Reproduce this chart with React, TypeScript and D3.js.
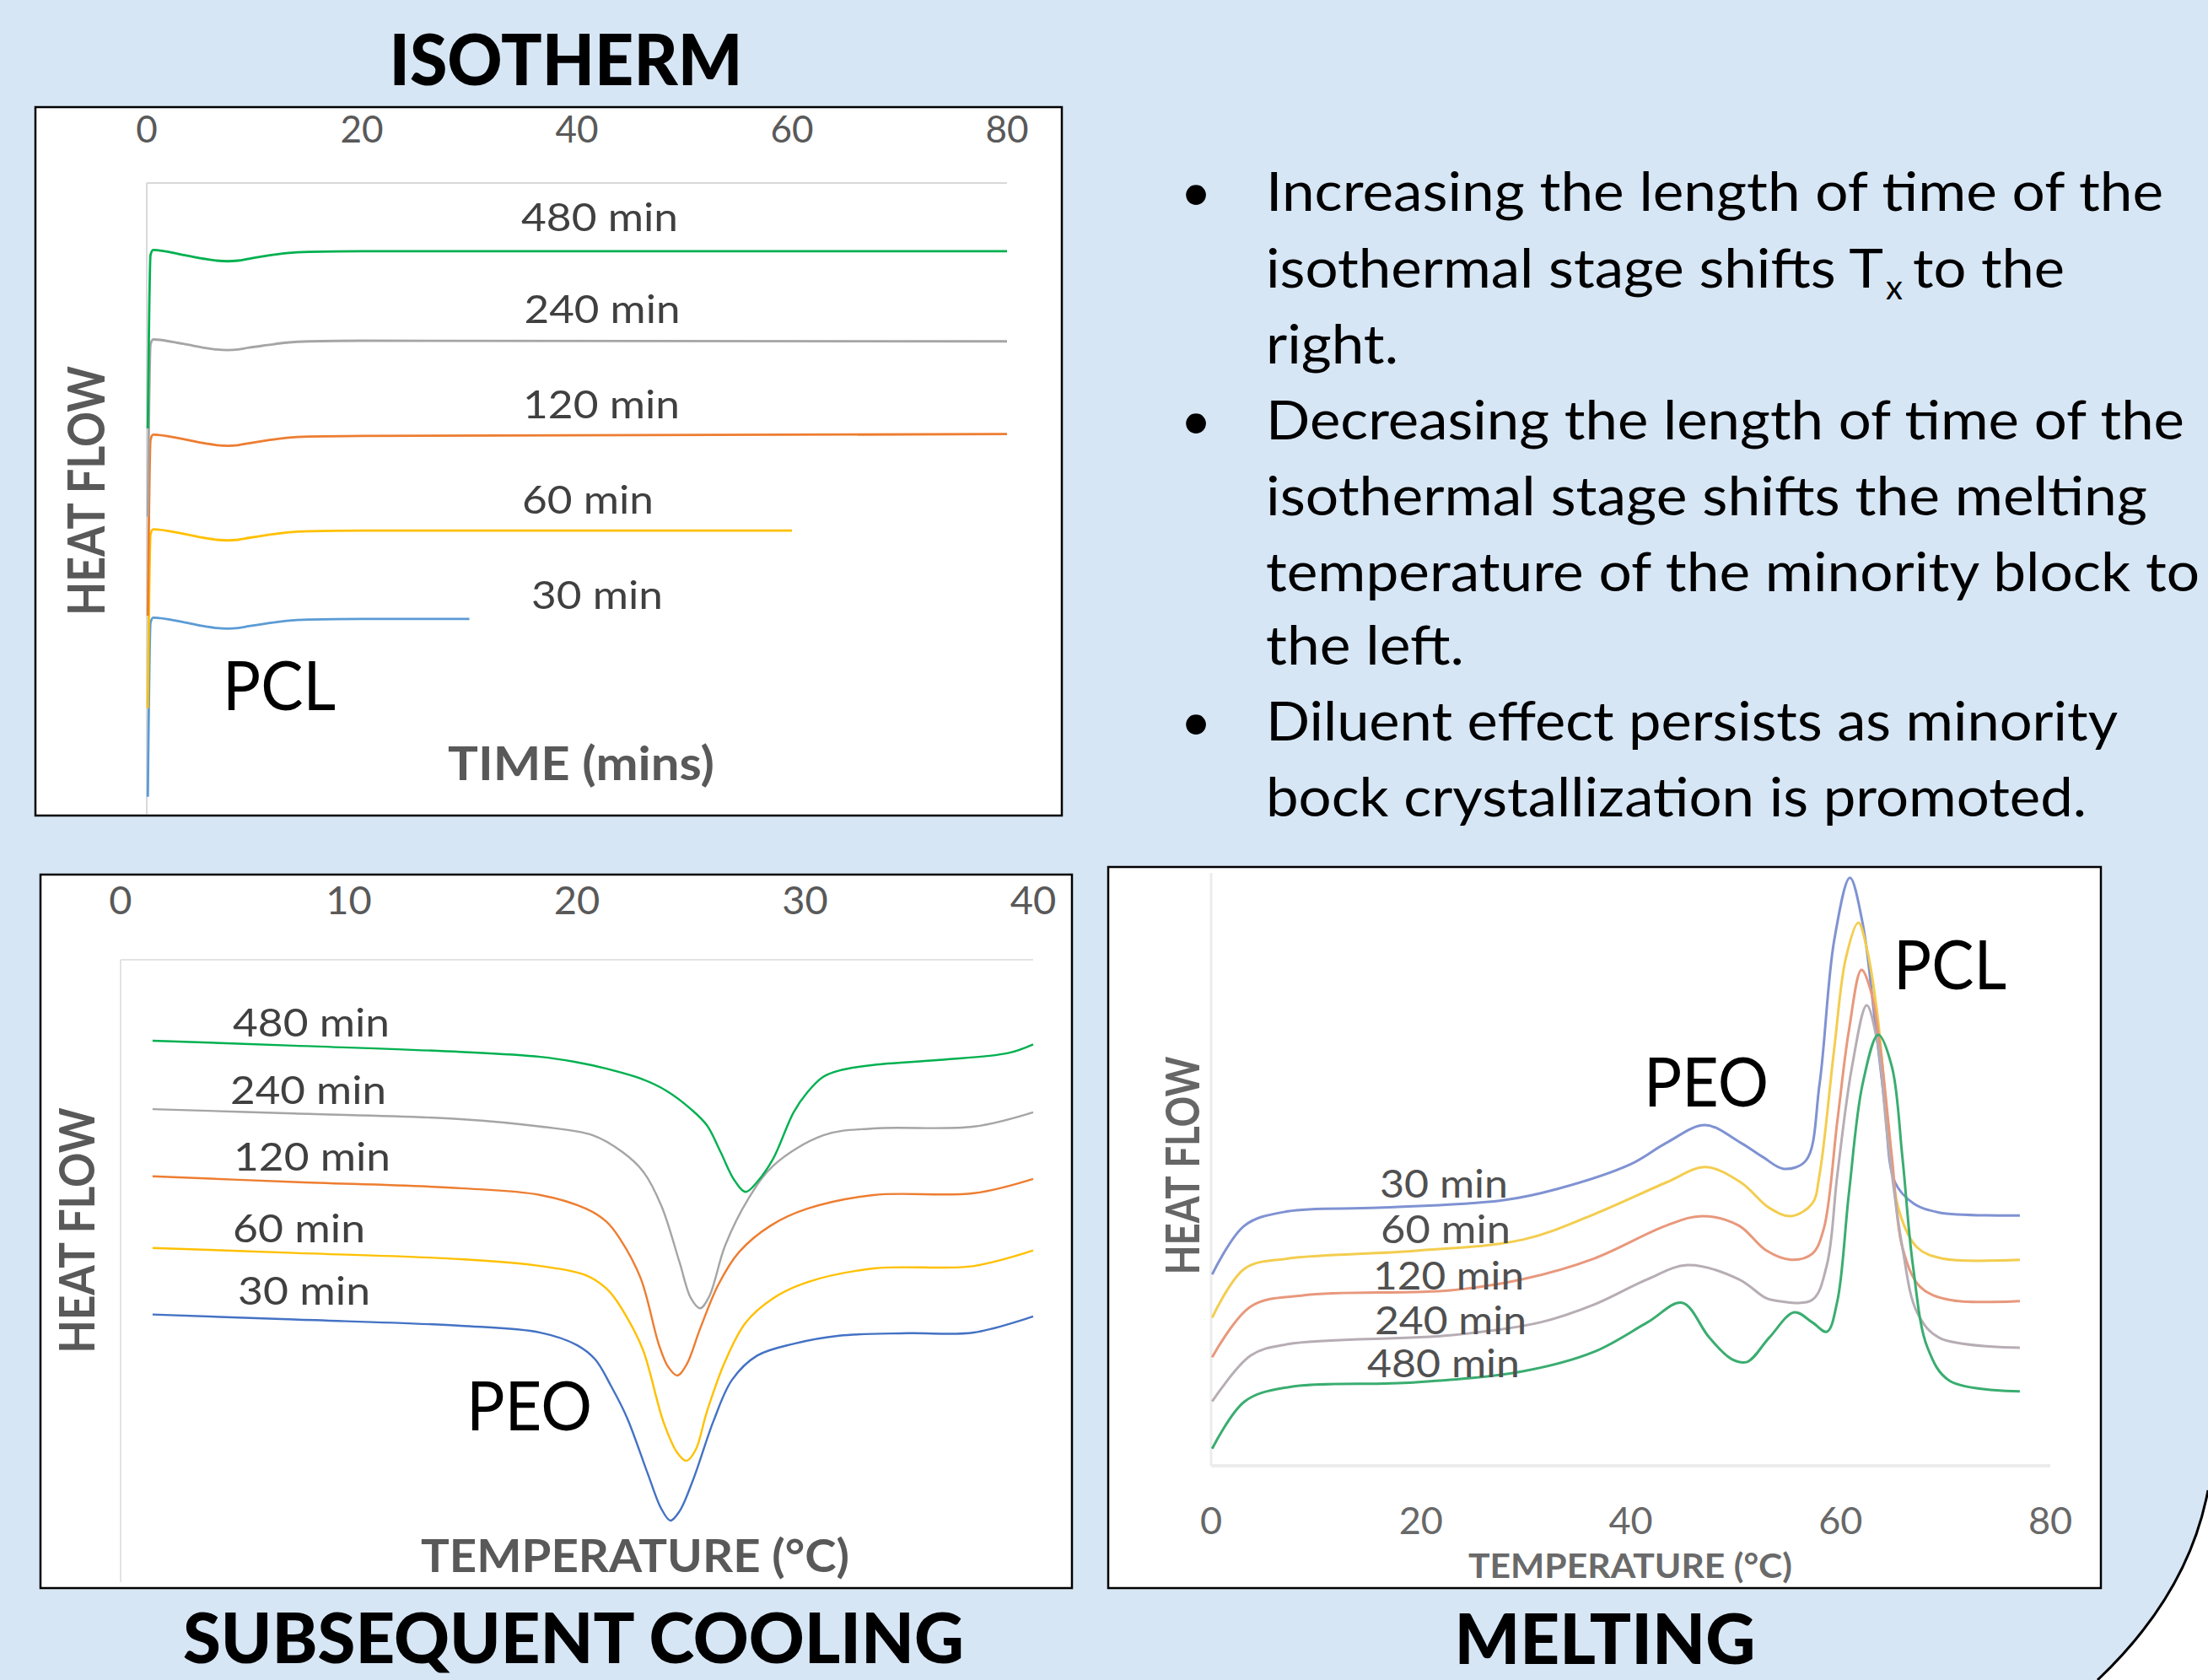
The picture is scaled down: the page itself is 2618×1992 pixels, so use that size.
import React from 'react';
import * as d3 from 'd3';

type Pt = [number, number];

const W = 2618;
const H = 1992;
const FONT = 'Lato, "Open Sans", sans-serif';

// series, in the order they are drawn
const SERIES = ['30 min', '60 min', '120 min', '240 min', '480 min'];
const ISO_COLORS = ['#5b9bd5', '#ffc000', '#ed7d31', '#a5a5a5', '#00b050'];
const COOL_COLORS = ['#4472c4', '#ffc000', '#ed7d31', '#a5a5a5', '#00b050'];
const MELT_COLORS = ['#7f92d2', '#f3cd4f', '#e8987c', '#b7adb4', '#3aad70'];

const ISO_TICKS = [0, 20, 40, 60, 80];
const COOL_TICKS = [0, 10, 20, 30, 40];
const MELT_TICKS = [0, 20, 40, 60, 80];

// isotherm: time (min) vs heat flow (arb. units)
const iso30: Pt[] = [[0.1, 2.7], [0.35, 30.3], [0.6, 31.1], [3.4, 30.4], [5.5, 29.7], [6.5, 29.45], [7.5, 29.35], [8.5, 29.45], [9.5, 29.75], [11.2, 30.2], [13, 30.6], [15.1, 30.8], [20, 30.9], [30, 30.9]];
const iso60: Pt[] = [[0.1, 16.7], [0.35, 44.3], [0.6, 45.1], [3.4, 44.4], [5.5, 43.7], [6.5, 43.45], [7.5, 43.35], [8.5, 43.45], [9.5, 43.75], [11.2, 44.2], [13, 44.6], [15.1, 44.8], [20, 44.9], [60, 44.9]];
const iso120: Pt[] = [[0.1, 31.4], [0.35, 59.3], [0.6, 60.1], [3.4, 59.4], [5.5, 58.7], [6.5, 58.45], [7.5, 58.35], [8.5, 58.45], [9.5, 58.75], [11.2, 59.2], [13, 59.6], [15.1, 59.8], [20, 59.9], [80, 60.2]];
const iso240: Pt[] = [[0.1, 47.1], [0.35, 74.4], [0.6, 75.2], [3.4, 74.5], [5.5, 73.85], [6.5, 73.6], [7.5, 73.5], [8.5, 73.6], [9.5, 73.9], [11.2, 74.3], [13, 74.7], [15.1, 74.9], [20, 75.0], [80, 74.9]];
const iso480: Pt[] = [[0.1, 61.1], [0.35, 88.6], [0.6, 89.4], [3.4, 88.6], [5.5, 87.95], [6.5, 87.7], [7.5, 87.6], [8.5, 87.7], [9.5, 88.0], [11.2, 88.5], [13, 88.9], [15.1, 89.1], [20, 89.2], [80, 89.2]];

// subsequent cooling: temperature (°C) vs heat flow
const cool30: Pt[] = [[1.4, 43.0], [7.6, 42.2], [14.9, 41.2], [18.4, 40.1], [20.0, 38.1], [20.8, 35.8], [21.5, 31.5], [22.2, 26.4], [23.1, 17.5], [23.7, 11.8], [24.1, 9.9], [24.5, 11.4], [25.1, 16.5], [26.0, 26.0], [26.8, 32.5], [27.9, 36.4], [29.5, 38.3], [31.5, 39.6], [34.5, 40.0], [37.4, 40.1], [40, 42.7]];
const cool60: Pt[] = [[1.4, 53.7], [7.6, 52.9], [14.9, 51.9], [18.4, 50.8], [20.4, 49.3], [21.4, 46.8], [22.2, 42.5], [22.9, 37.3], [23.8, 25.7], [24.4, 20.8], [24.8, 19.5], [25.2, 21.2], [25.7, 27.4], [26.5, 35.5], [27.4, 41.7], [28.6, 45.6], [30.1, 48.2], [33.0, 50.4], [37.4, 50.8], [40, 53.3]];
const cool120: Pt[] = [[1.4, 65.2], [7.6, 64.3], [14.9, 63.3], [18.4, 62.2], [20.4, 60.0], [21.3, 57.9], [21.9, 55.1], [22.8, 48.8], [23.6, 38.1], [24.0, 34.6], [24.4, 33.2], [24.8, 34.9], [25.4, 40.7], [26.2, 47.8], [27.1, 53.0], [28.5, 57.3], [30.1, 60.0], [33.0, 62.2], [37.4, 62.5], [40, 64.8]];
const cool240: Pt[] = [[1.4, 76.0], [7.6, 75.3], [14.9, 74.4], [18.4, 73.2], [20.7, 71.8], [22.0, 69.1], [22.9, 66.0], [23.7, 60.5], [24.5, 51.4], [25.0, 45.6], [25.4, 44.0], [25.8, 45.9], [26.5, 54.1], [27.5, 61.5], [28.6, 66.9], [30.8, 71.8], [33.0, 72.9], [37.4, 73.2], [40, 75.5]];
const cool480: Pt[] = [[1.4, 87.0], [7.6, 86.2], [14.9, 85.2], [18.4, 84.4], [19.9, 83.6], [21.3, 82.5], [22.8, 80.9], [23.9, 79.0], [25.0, 76.0], [25.7, 73.4], [26.3, 69.1], [26.9, 64.6], [27.4, 62.7], [27.9, 64.3], [28.6, 68.0], [29.5, 75.5], [30.1, 78.7], [30.8, 81.2], [31.5, 82.2], [33.0, 83.1], [35.9, 83.9], [38.9, 85.0], [40, 86.4]];

// melting: temperature (°C) vs heat flow
const melt30: Pt[] = [[0.1, 32.4], [3.2, 40.7], [7.3, 43.1], [15.9, 43.7], [27.9, 45.0], [33.0, 46.9], [40.0, 51.1], [43.4, 54.7], [47.1, 57.7], [50.5, 54.7], [52.6, 52.3], [54.6, 50.3], [56.7, 51.7], [58.0, 64.6], [59.4, 89.0], [60.9, 99.6], [62.1, 92.0], [63.2, 76.7], [64.2, 61.4], [65.2, 48.0], [67.0, 44.4], [69.4, 42.9], [77.1, 42.4]];
const melt60: Pt[] = [[0.1, 25.1], [3.2, 33.4], [7.3, 35.1], [19.3, 36.4], [29.7, 38.3], [36.5, 42.6], [43.4, 48.0], [47.1, 50.6], [50.5, 48.0], [53.2, 43.7], [55.3, 42.3], [57.3, 44.4], [58.0, 49.3], [59.4, 70.6], [60.5, 85.9], [61.7, 92.0], [62.5, 87.7], [63.5, 76.7], [64.5, 58.4], [65.6, 43.1], [67.3, 37.0], [69.7, 35.1], [77.1, 34.9]];
const melt120: Pt[] = [[0.1, 18.4], [3.8, 27.0], [8.9, 28.9], [22.8, 29.7], [29.7, 31.6], [36.5, 35.1], [43.4, 40.7], [46.8, 42.3], [50.3, 40.7], [52.9, 36.5], [55.3, 34.9], [57.3, 35.9], [58.4, 40.1], [59.7, 58.4], [60.8, 73.7], [62.0, 84.0], [62.9, 80.4], [63.8, 70.6], [64.9, 52.3], [65.9, 37.0], [67.6, 30.3], [70.4, 28.1], [77.1, 27.9]];
const melt240: Pt[] = [[0.1, 10.9], [3.8, 18.7], [7.3, 20.6], [22.8, 22.1], [31.4, 24.3], [36.5, 27.3], [41.6, 31.6], [45.4, 34.0], [50.3, 31.6], [52.9, 28.4], [54.1, 27.9], [57.3, 28.1], [58.7, 34.0], [59.7, 49.3], [61.1, 67.6], [62.5, 78.0], [63.5, 71.9], [64.5, 55.3], [65.9, 37.0], [67.3, 26.0], [69.4, 21.7], [77.1, 20.0]];
const melt480: Pt[] = [[0.1, 2.9], [3.2, 10.9], [7.3, 13.3], [19.3, 14.1], [29.7, 16.0], [36.5, 19.3], [41.6, 24.3], [44.9, 27.6], [47.5, 21.7], [49.6, 18.1], [51.1, 17.6], [53.2, 21.7], [55.6, 26.0], [57.3, 24.3], [58.7, 22.7], [59.7, 27.9], [60.8, 46.1], [62.1, 64.6], [63.6, 73.0], [64.9, 67.6], [65.9, 52.3], [66.9, 34.0], [68.3, 20.0], [70.4, 14.4], [77.1, 12.6]];

const ISO_DATA = [iso30, iso60, iso120, iso240, iso480];
const COOL_DATA = [cool30, cool60, cool120, cool240, cool480];
const MELT_DATA = [melt30, melt60, melt120, melt240, melt480];

const BULLETS = [
  ['Increasing the length of time of the', null, 'right.'],
  ['Decreasing the length of time of the', 'isothermal stage shifts the melting', 'temperature of the minority block to', 'the left.'],
  ['Diluent effect persists as minority', 'bock crystallization is promoted.'],
];

// label layout: [x, baseline, width]
const ISO_LABEL_POS = [[708, 722, 156], [697, 609, 156], [713, 496, 186], [714, 383, 185], [711, 274, 186]];
const COOL_LABEL_POS = [[282, 1547, 157], [276, 1473, 157], [277, 1388, 186], [273, 1309, 185], [276, 1229, 186]];
const MELT_LABEL_POS = [[1636, 1420, 152], [1637, 1474, 154], [1628, 1529, 179], [1630, 1582, 180], [1621, 1633, 181]];

const Txt = ({ x, y, w, size, weight = 400, fill = '#000', anchor = 'start', rotate = 0, children }: any) => (
  <text
    x={x}
    y={y}
    fontSize={size}
    fontWeight={weight}
    fill={fill}
    textAnchor={anchor}
    fontFamily={FONT}
    textLength={w}
    lengthAdjust="spacingAndGlyphs"
    transform={rotate ? `rotate(${rotate} ${x} ${y})` : undefined}
  >
    {children}
  </text>
);

const Box = ({ x0, y0, x1, y1 }: any) => (
  <rect x={x0} y={y0} width={x1 - x0} height={y1 - y0} fill="#fff" stroke="#000" strokeWidth={2.5} />
);

export default function App() {
  const isoX = d3.scaleLinear().domain([0, 80]).range([174, 1194]);
  const isoY = d3.scaleLinear().domain([0, 100]).range([965, 217]);
  const coolX = d3.scaleLinear().domain([0, 40]).range([143, 1225]);
  const coolY = d3.scaleLinear().domain([0, 100]).range([1876, 1138]);
  const meltX = d3.scaleLinear().domain([0, 80]).range([1436, 2431]);
  const meltY = d3.scaleLinear().domain([0, 100]).range([1738, 1038]);

  const mk = (xs: any, ys: any, curve: any) =>
    d3.line<Pt>().x(d => xs(d[0])).y(d => ys(d[1])).curve(curve);
  const isoLine = mk(isoX, isoY, d3.curveMonotoneX);
  const coolLine = mk(coolX, coolY, d3.curveCatmullRom.alpha(0.5));
  const meltLine = mk(meltX, meltY, d3.curveCatmullRom.alpha(0.5));

  const bodyBaselines = [250, 341, 431, 521, 611, 701, 788, 878, 968];
  const bodyWidths = [1064, 0, 157, 1089, 1045, 1107, 235, 1010, 973];
  let li = 0;

  return (
    <svg width={W} height={H} style={{ position: 'absolute', left: 0, top: 0, display: 'block' }}>
      <rect x={0} y={0} width={W} height={H} fill="#d7e6f5" />
      <path d="M 2618 1767 Q 2595 1890 2487 1992 L 2618 1992 Z" fill="#fff" />
      <path d="M 2618 1767 Q 2595 1890 2487 1992" fill="none" stroke="#000" strokeWidth={3} />

      {/* ISOTHERM */}
      <Txt x={671} y={101} w={419} size={84} weight={900} anchor="middle">ISOTHERM</Txt>
      <Box x0={42} y0={127} x1={1259} y1={967} />
      <line x1={isoX(0)} x2={isoX(80)} y1={isoY(100)} y2={isoY(100)} stroke="#d9d9d9" strokeWidth={2} />
      <line x1={isoX(0)} x2={isoX(0)} y1={isoY(100)} y2={isoY(0)} stroke="#d9d9d9" strokeWidth={2} />
      {ISO_TICKS.map(t => (
        <Txt key={t} x={isoX(t)} y={169} size={44} fill="#595959" anchor="middle">{t}</Txt>
      ))}
      {ISO_DATA.map((d, i) => (
        <path key={i} d={isoLine(d) || ''} fill="none" stroke={ISO_COLORS[i]} strokeWidth={2.8} />
      ))}
      {SERIES.map((s, i) => (
        <Txt key={s} x={ISO_LABEL_POS[i][0]} y={ISO_LABEL_POS[i][1]} w={ISO_LABEL_POS[i][2]} size={47} fill="#404040" anchor="middle">{s}</Txt>
      ))}
      <Txt x={264} y={842} w={134} size={82}>PCL</Txt>
      <Txt x={531} y={925} w={316} size={56} weight={700} fill="#595959">TIME (mins)</Txt>
      <Txt x={124} y={582} w={296} size={61} weight={700} fill="#595959" anchor="middle" rotate={-90}>HEAT FLOW</Txt>

      {/* SUBSEQUENT COOLING */}
      <Box x0={48} y0={1037} x1={1271} y1={1883} />
      <line x1={coolX(0)} x2={coolX(40)} y1={coolY(100)} y2={coolY(100)} stroke="#e3e3e3" strokeWidth={2} />
      <line x1={coolX(0)} x2={coolX(0)} y1={coolY(100)} y2={coolY(0)} stroke="#e3e3e3" strokeWidth={2} />
      {COOL_TICKS.map(t => (
        <Txt key={t} x={coolX(t)} y={1084} size={47} fill="#595959" anchor="middle">{t}</Txt>
      ))}
      {COOL_DATA.map((d, i) => (
        <path key={i} d={coolLine(d) || ''} fill="none" stroke={COOL_COLORS[i]} strokeWidth={2.4} />
      ))}
      {SERIES.map((s, i) => (
        <Txt key={s} x={COOL_LABEL_POS[i][0]} y={COOL_LABEL_POS[i][1]} w={COOL_LABEL_POS[i][2]} size={47} fill="#404040">{s}</Txt>
      ))}
      <Txt x={553} y={1696} w={149} size={82}>PEO</Txt>
      <Txt x={499} y={1864} w={508} size={54} weight={700} fill="#595959">TEMPERATURE (°C)</Txt>
      <Txt x={112} y={1459} w={291} size={58} weight={700} fill="#595959" anchor="middle" rotate={-90}>HEAT FLOW</Txt>
      <Txt x={680} y={1972} w={926} size={82} weight={900} anchor="middle">SUBSEQUENT COOLING</Txt>

      {/* MELTING */}
      <Box x0={1314} y0={1028} x1={2491} y1={1883} />
      <line x1={meltX(0)} x2={meltX(80)} y1={meltY(0)} y2={meltY(0)} stroke="#ececec" strokeWidth={4} />
      <line x1={meltX(0)} x2={meltX(0)} y1={1035} y2={meltY(0)} stroke="#ececec" strokeWidth={3} />
      {MELT_TICKS.map(t => (
        <Txt key={t} x={meltX(t)} y={1819} size={45} fill="#686868" anchor="middle">{t}</Txt>
      ))}
      {MELT_DATA.map((d, i) => (
        <path key={i} d={meltLine(d) || ''} fill="none" stroke={MELT_COLORS[i]} strokeWidth={3} />
      ))}
      {SERIES.map((s, i) => (
        <Txt key={s} x={MELT_LABEL_POS[i][0]} y={MELT_LABEL_POS[i][1]} w={MELT_LABEL_POS[i][2]} size={46} fill="#505050">{s}</Txt>
      ))}
      <Txt x={1949} y={1312} w={148} size={82}>PEO</Txt>
      <Txt x={2245} y={1173} w={134} size={82}>PCL</Txt>
      <Txt x={1741} y={1871} w={384} size={40} weight={700} fill="#6a6a6a">TEMPERATURE (°C)</Txt>
      <Txt x={1422} y={1382} w={259} size={55} weight={700} fill="#666" anchor="middle" rotate={-90}>HEAT FLOW</Txt>
      <Txt x={1903} y={1973} w={357} size={82} weight={900} anchor="middle">MELTING</Txt>

      {/* bullet text */}
      {BULLETS.map((group, gi) =>
        group.map((line, k) => {
          const y = bodyBaselines[li];
          const w = bodyWidths[li];
          li += 1;
          return (
            <g key={`${gi}-${k}`}>
              {k === 0 && <Txt x={1418} y={y} size={64} anchor="middle">•</Txt>}
              {line === null ? (
                <>
                  <Txt x={1501} y={y} w={732} size={64}>isothermal stage shifts T</Txt>
                  <Txt x={2236} y={y + 14} size={40}>x</Txt>
                  <Txt x={2268} y={y} w={180} size={64}>to the</Txt>
                </>
              ) : (
                <Txt x={1501} y={y} w={w} size={64}>{line}</Txt>
              )}
            </g>
          );
        })
      )}
    </svg>
  );
}
